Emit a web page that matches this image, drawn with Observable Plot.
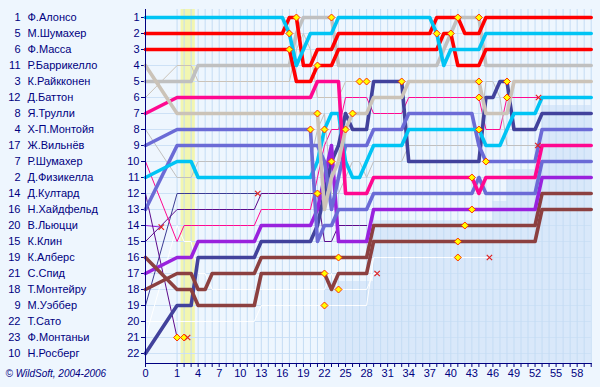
<!DOCTYPE html>
<html><head><meta charset="utf-8">
<script src="https://cdn.jsdelivr.net/npm/d3@7"></script>
<script src="https://cdn.jsdelivr.net/npm/@observablehq/plot@0.6"></script>
<style>
html,body{margin:0;padding:0;background:#eef6fe;}
#chart{width:600px;height:387px;}
</style></head><body><div id="chart"></div>
<script>
// ---- data (grid order) ----
const driverNums = [1,5,6,11,3,12,8,4,17,7,2,14,16,20,15,19,21,18,9,22,23,10];
const driverNames = ["Ф.Алонсо","М.Шумахер","Ф.Масса","Р.Баррикелло","К.Райкконен","Д.Баттон","Я.Трулли","Х-П.Монтойя","Ж.Вильнёв","Р.Шумахер","Д.Физикелла","Д.Култард","Н.Хайдфельд","В.Льюцци","К.Клин","К.Алберс","С.Спид","Т.Монтейру","М.Уэббер","Т.Сато","Ф.Монтаньи","Н.Росберг"];
const driverColors = ["#00c4f4","#ff0000","#ff0000","#cbc3b8","#c0c0c0","#cbc3b8","#ff0890","#c0c0c0","#6b6bd6","#ff0890","#00c4f4","#5c0a8c","#6b6bd6","#9922dd","#5c0a8c","#8c4040","#9922dd","#8c4040","#3c3c94","#ffffff","#ffffff","#42429c"];
const classified = [1,1,1,1,1,0,1,0,1,0,1,0,1,0,0,1,1,1,0,0,0,1];

// position after each lap (index = lap, 0 = grid)
const posAlonso = [1,1,1,1,1,1,1,1,1,1, 1,1,1,1,1,1,1,2,4,3, 2,2,2,2,1,1,1,1,1,1, 1,1,1,1,1,1,1,1,2,4, 3,3,3,3,3,2,2,2,2,2, 2,2,2,2,2,2,2,2,2,2, 2];
const posMSchumacher = [2,2,2,2,2,2,2,2,2,2, 2,2,2,2,2,2,2,1,1,4, 4,3,3,3,2,2,2,2,2,2, 2,2,2,2,2,2,2,2,1,1, 1,1,2,2,2,1,1,1,1,1, 1,1,1,1,1,1,1,1,1,1, 1];
const posMassa = [3,3,3,3,3,3,3,3,3,3, 3,3,3,3,3,3,3,3,5,5, 5,4,4,4,3,3,3,3,3,3, 3,3,3,3,3,3,3,3,3,2, 2,4,4,4,4,3,3,3,3,3, 3,3,3,3,3,3,3,3,3,3, 3];
const posBarrichello = [4,7,7,7,7,7,7,7,7,7, 7,7,7,7,7,7,7,7,7,7, 7,7,13,11,10,8,7,7,7,6, 6,6,6,6,5,5,5,5,5,5, 5,5,5,5,5,7,7,7,7,5, 5,5,5,5,5,5,5,5,5,5, 5];
const posRaikkonen = [5,5,5,5,4,4,4,4,4,4, 4,4,4,4,4,4,4,4,2,1, 1,1,1,1,4,4,4,4,4,4, 4,4,4,4,4,4,4,4,4,3, 2,1,1,1,1,4,4,4,4,4, 4,4,4,4,4,4,4,4,4,4, 4];
const posButton = [6,4,4,4,5,5,5,5,5,5, 5,5,5,5,5,5,5,5,3,2, 3,6,6,6,6,5,5,5,5];
const posTrulli = [7,6,6,6,6,6,6,6,6,6, 6,6,6,6,6,6,6,6,6,6, 6,5,5,5,5,12,12,12,12,11, 11,11,11,11,11,11,11,11,11,11, 11,11,11,11,12,11,11,11,11,11, 11,11,11,9,9,9,9,9,9,9, 9];
const posMontoya = [8,11,11,11,10,10,10,10,10,10, 10,10,10,10,10,10,10,10,10,10, 10,8,7,12,12,11,10,10,11,10, 10,10,10,10,9,9,9,9,9,9, 9,9,9,9,9,5,5,6,9,9, 9,9,9];
const posVilleneuve = [9,8,8,8,8,8,8,8,8,8, 8,8,8,8,8,8,8,8,8,8, 8,15,14,14,13,13,13,13,13,12, 12,12,12,12,12,12,12,12,12,12, 12,12,12,12,11,12,12,12,12,12, 12,12,12,10,10,10,10,10,10,10, 10];
const posRSchumacher = [10,15,14,14,14,14,14,14,14,14, 14,14,14,13,13,13,13,13,13,13, 13,11,9,8,8,6,6,6,6,7, 7,7,7,7,6,6,6,6,6,6, 6,6,6,6,6,8,8,8,6,6, 6,6,6];
const posFisichella = [11,10,10,10,11,11,11,11,11,11, 11,11,11,11,11,11,11,11,11,11, 11,10,8,7,7,10,11,11,10,9, 9,9,9,9,8,8,8,8,8,8, 8,8,8,8,8,9,9,9,8,7, 7,7,7,6,6,6,6,6,6,6, 6];
const posCoulthard = [12,21,21];
const posHeidfeld = [13,9,9,9,9,9,9,9,9,9, 9,9,9,9,9,9,9,9,9,9, 9,9,10,13,11,9,9,9,9,8, 8,8,8,8,7,7,7,7,7,7, 7,7,7,7,9,10,10,10,10,10, 10,10,10,8,8,8,8,8,8,8, 8];
const posLiuzzi = [14];
const posKlien = [15,13,13,13,13,13,13,13,13,13, 13,13,13,12,12,12,12,12,12,12, 12,12,15,15,14,14,14,14,14];
const posAlbers = [16,18,18,18,19,19,19,19,19,19, 19,19,19,17,17,17,17,17,17,17, 17,17,17,18,17,17,17,17,17,15, 15,15,15,15,15,15,15,15,15,15, 15,15,15,15,15,15,15,15,15,15, 15,15,15,13,13,13,13,13,13,13, 13];
const posSpeed = [17,16,16,16,15,15,15,15,15,15, 15,15,15,14,14,14,14,14,14,14, 14,13,11,9,15,15,15,15,15,13, 13,13,13,13,13,13,13,13,13,13, 13,13,13,13,13,13,13,13,13,13, 13,13,13,11,11,11,11,11,11,11, 11];
const posMonteiro = [18,17,17,17,18,18,17,17,17,17, 17,17,17,16,16,16,16,16,16,16, 16,16,16,16,16,16,16,16,16,14, 14,14,14,14,14,14,14,14,14,14, 14,14,14,14,14,14,14,14,14,14, 14,14,14,12,12,12,12,12,12,12, 12];
const posWebber = [19,12,12,12,12,12,12,12,12,12, 12,12,12];
const posSato = [20,20,20,20,20,20,20,20,20,20, 20,20,20,19,19,19,19,19,19,19, 19,19,19,19,19,19,19,19,19,16, 16,16,16,16,16,16,16,16,16,16, 16,16,16,16,16,16];
const posMontagny = [21,14,15,15,17,17,18,18,18,18, 18,18,18,18,18,18,18,18,18,18, 18,18,18,17,18,18,18,18,18,17];
const posRosberg = [22,19,19,19,16,16,16,16,16,16, 16,16,16,15,15,15,15,15,15,15, 15,14,12,10,9,7,8,8,8,5, 5,5,5,5,10,10,10,10,10,10, 10,10,10,10,10,6,6,5,5,8, 8,8,8,7,7,7,7,7,7,7, 7];

const positions = [posAlonso,posMSchumacher,posMassa,posBarrichello,posRaikkonen,posButton,posTrulli,posMontoya,posVilleneuve,posRSchumacher,posFisichella,posCoulthard,posHeidfeld,posLiuzzi,posKlien,posAlbers,posSpeed,posMonteiro,posWebber,posSato,posMontagny,posRosberg];

// retirements (driver index, lap, position)
const retIndex = [13, 11, 18, 20, 19, 9, 7];
const retLap = [0.5, 2.5, 12.5, 29.5, 45.5, 52.5, 52.4];
const retPos = [14.1, 21, 12, 17, 16, 6, 9];

// pit stops
const pitLap = [1,2,17,17,18,20,21,21,21,22,22,22,23,23,24,24,25,26,27,28,33,38,40,41,41,41,42,43,43,44,44,44,44,45,48,48];
const pitPos = [21,21,2,3,1,8,4,7,12,8,17,19,1,10,16,18,8,7,5,5,5,2,2,1,15,16,14,11,13,1,5,6,8,10,5,6];

// lapped-cars zone and yellow flag band
const shadeLap = [22, 29, 46, 48, 53, 60];
const shadeTop = [17.5, 13.7, 12.5, 10.5, 6.5, 6.5];
const bandStart = [1.57];
const bandEnd = [3.6];

const posTicks = d3.range(1, 23);
const lapTickLabels = [0,1,4,7,10,13,16,19,22,25,28,31,34,37,40,43,46,49,52,55,58];

// ---- helpers ----
const GRID0 = -3.5;            // where lap 0 (grid) sits on the lap axis
const xv = lap => lap < 1 ? GRID0 + lap * (1 - GRID0) : lap;
const Y0 = 0.5, Y1 = 22.625, XMAX = 60;

const diamond = {draw(ctx, size){ const h = Math.sqrt(size/Math.PI)*1.25; ctx.moveTo(0,-h); ctx.lineTo(h,0); ctx.lineTo(0,h); ctx.lineTo(-h,0); ctx.closePath(); }};
const cross = {draw(ctx, size){ const h = Math.sqrt(size/Math.PI); ctx.moveTo(-h,-h); ctx.lineTo(h,h); ctx.moveTo(-h,h); ctx.lineTo(h,-h); }};

const lineData = positions.map((arr, i) => {
  const pts = [];
  arr.forEach((p, lap) => { if (p != null) pts.push({x: xv(lap), y: p}); });
  const r = retIndex.indexOf(i);
  if (r >= 0) pts.push({x: xv(retLap[r]), y: retPos[r]});
  return pts;
});

const order = d3.range(driverNames.length).reverse();
const lineMarks = [];
for (const i of order) if (!classified[i]) lineMarks.push(Plot.line(lineData[i], {x: "x", y: "y", stroke: driverColors[i], strokeWidth: 1}));
for (const i of order) if (classified[i]) lineMarks.push(Plot.line(lineData[i], {x: "x", y: "y", stroke: driverColors[i], strokeWidth: 3.6}));

const labelRows = driverNames.map((n, i) => ({pos: i + 1, num: driverNums[i], name: n}));

const chart = Plot.plot({
  width: 600, height: 387,
  marginLeft: 145, marginRight: 9.3, marginTop: 9, marginBottom: 24,
  style: {background: "#eef6fe", color: "#000080", fontFamily: "'Liberation Sans', Arial, sans-serif", fontSize: "11px"},
  x: {domain: [GRID0, XMAX], ticks: [GRID0, ...d3.range(1, 61)], tickSize: 4, tickPadding: 2, label: null,
      tickFormat: d => d === GRID0 ? "0" : (lapTickLabels.includes(d) ? String(d) : "")},
  y: {domain: [Y0, Y1], reverse: true, ticks: posTicks, tickSize: 4, tickPadding: 2, label: null, tickFormat: d => String(d)},
  marks: [
    Plot.areaY(shadeLap.map((l, i) => ({x: l, top: shadeTop[i]})), {x: "x", y1: () => Y1, y2: "top", curve: "step-after", fill: "#d9e8fa"}),
    Plot.rect(bandStart.map((s, i) => ({s, e: bandEnd[i]})), {x1: "s", x2: "e", y1: () => Y0, y2: () => Y1, fill: "#f2f6b0"}),
    Plot.ruleY(posTicks, {x1: () => GRID0, x2: () => XMAX, stroke: "#cde1f6"}),
    Plot.ruleX(d3.range(1, 61), {y1: () => Y0, y2: () => Y1, stroke: "#c4dcf4"}),
    ...lineMarks,
    Plot.ruleX([GRID0], {y1: () => Y0, y2: () => Y1, stroke: "#000080"}),
    Plot.ruleY([Y1], {x1: () => GRID0, x2: () => XMAX + 0.15, stroke: "#000080"}),
    Plot.dot(pitLap.map((l, i) => ({x: xv(l), y: pitPos[i]})), {x: "x", y: "y", symbol: diamond, r: 2.8, fill: "#ffff00", stroke: "#ff3000", strokeWidth: 1}),
    Plot.dot(retLap.map((l, i) => ({x: xv(l), y: retPos[i]})), {x: "x", y: "y", symbol: cross, r: 2.7, fill: "none", stroke: "#e02020", strokeWidth: 1.2}),
    Plot.text(labelRows, {frameAnchor: "left", y: "pos", text: d => String(d.num), dx: -125, textAnchor: "end", fontSize: 11, fill: "#000080"}),
    Plot.text(labelRows, {frameAnchor: "left", y: "pos", text: "name", dx: -118, textAnchor: "start", fontSize: 11, fill: "#000080"}),
    Plot.text(["© WildSoft, 2004-2006"], {frameAnchor: "bottom-left", text: d => d, dx: -140, dy: 13, textAnchor: "start", fontSize: 10, fontStyle: "italic", fill: "#000080"})
  ]
});
document.getElementById("chart").append(chart);
</script></body></html>
